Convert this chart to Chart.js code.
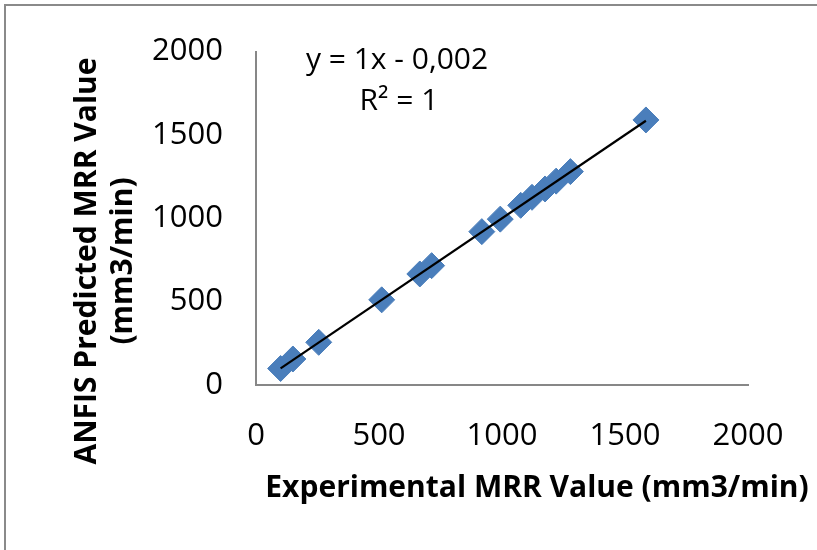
<!DOCTYPE html>
<html>
<head>
<meta charset="utf-8">
<title>ANFIS vs Experimental MRR</title>
<script src="https://cdn.jsdelivr.net/npm/chart.js@4.4.1/dist/chart.umd.min.js"></script>
<style>
  html, body { margin: 0; padding: 0; background: #fff; overflow: hidden; }
  #wrap { position: relative; width: 817px; height: 550px; }
  #frame {
    position: absolute; left: 4px; top: 4px; width: 830px; height: 560px;
    border-left: 2px solid #8a8a8a; border-top: 2px solid #8a8a8a;
  }
  #chart { position: absolute; left: 0; top: 0; }
</style>
</head>
<body>
<div id="wrap">
  <div id="frame"></div>
  <canvas id="chart" width="817" height="550"></canvas>
</div>
<script>
// measured vs. predicted material removal rate (mm3/min)
const experimental = [100, 150, 255, 511, 666, 714, 918, 993, 1076, 1122, 1175, 1220, 1278, 1585];
const predicted = [99, 156, 256, 511, 666, 716, 920, 995, 1078, 1126, 1176, 1223, 1280, 1590];

const axisMin = 0;
const axisMax = 2000;
const axisStep = 500;

// linear trendline as reported on the chart
const trendSlope = 1;
const trendIntercept = -0.002;
const equationLines = ["y = 1x - 0,002", "R\u00b2 = 1"];

const xTitle = "Experimental MRR Value (mm3/min)";
const yTitle = ["ANFIS Predicted MRR Value", "(mm3/min)"];

const FONT = "'Open Sans', 'DejaVu Sans', sans-serif";

const points = experimental.map((x, i) => ({ x, y: predicted[i] }));
const xLo = Math.min(...experimental);
const xHi = Math.max(...experimental);
const trendPoints = [
  { x: xLo, y: trendSlope * xLo + trendIntercept },
  { x: xHi, y: trendSlope * xHi + trendIntercept },
];

// equation and axis titles, drawn straight onto the canvas
const textLayer = {
  id: "textLayer",
  afterDraw(chart) {
    const ctx = chart.ctx;
    ctx.save();
    ctx.fillStyle = "#000";
    ctx.textAlign = "center";
    ctx.textBaseline = "alphabetic";

    ctx.font = `30px ${FONT}`;
    ctx.fillText(equationLines[0], 397, 69);
    ctx.fillText(equationLines[1], 399, 110);

    ctx.font = `bold 30px ${FONT}`;
    ctx.fillText(xTitle, 537, 497);

    ctx.translate(0, 261);
    ctx.rotate(-Math.PI / 2);
    ctx.fillText(yTitle[0], 0, 96);
    ctx.fillText(yTitle[1], 0, 132);
    ctx.restore();
  },
};

const axisBase = {
  type: "linear",
  min: axisMin,
  max: axisMax,
  grid: { display: false, drawTicks: false },
  border: { display: true, color: "#878787", width: 2 },
};

new Chart(document.getElementById("chart"), {
  type: "scatter",
  data: {
    datasets: [
      {
        type: "line",
        data: trendPoints,
        borderColor: "#000",
        borderWidth: 2.2,
        pointRadius: 0,
        fill: false,
      },
      {
        data: points,
        pointStyle: "rectRot",
        pointRadius: 13,
        backgroundColor: "#4a7ebb",
        borderColor: "#4a7ebb",
        borderWidth: 1,
      },
    ],
  },
  options: {
    responsive: false,
    animation: false,
    events: [],
    layout: { padding: { top: 45, right: 69, left: 0, bottom: 0 } },
    plugins: {
      legend: { display: false },
      tooltip: { enabled: false },
    },
    scales: {
      x: {
        ...axisBase,
        ticks: {
          stepSize: axisStep,
          padding: 33,
          color: "#000",
          font: { family: FONT, size: 31 },
          callback: (v) => String(v),
        },
        afterFit: (scale) => { scale.height = 165; },
      },
      y: {
        ...axisBase,
        ticks: {
          stepSize: axisStep,
          padding: 33,
          color: "#000",
          font: { family: FONT, size: 31 },
          callback: (v) => String(v),
        },
        afterFit: (scale) => { scale.width = 256; },
      },
    },
  },
  plugins: [textLayer],
});
</script>
</body>
</html>
